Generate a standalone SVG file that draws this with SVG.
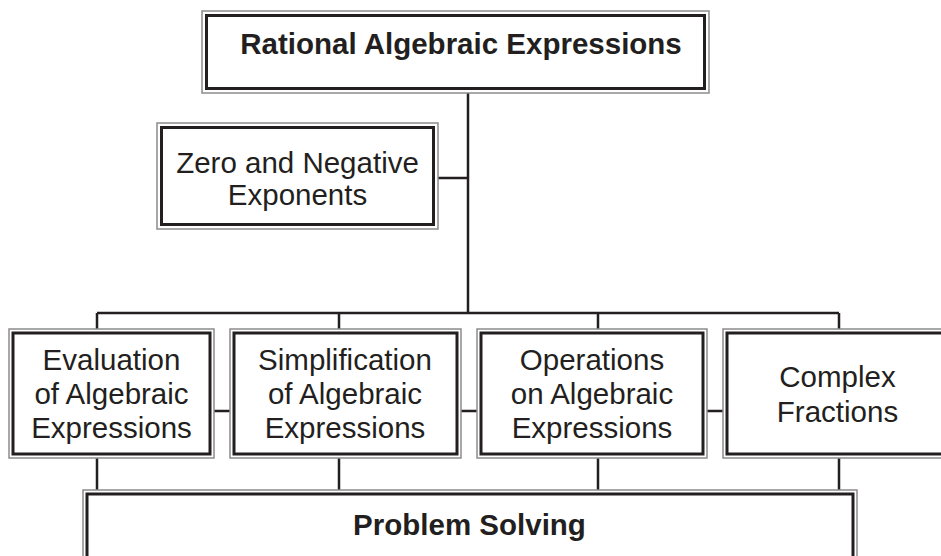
<svg xmlns="http://www.w3.org/2000/svg" width="941" height="556" viewBox="0 0 941 556">
<style>
.o{fill:none;stroke:#8c8c8c;stroke-width:1.5}
.i{fill:#fff;stroke:#231f20;stroke-width:3}
.t{font-family:"Liberation Sans",Arial,sans-serif;font-size:29.5px;fill:#231f20;text-anchor:middle}
.b{font-weight:bold;font-size:29.5px}
.c{stroke:#231f20;stroke-width:2.5;fill:none}
</style>
<rect width="941" height="556" fill="#fff"/>
<g id="connectors">
<path class="c" d="M468 93V313M438 178H468M97 313H839M97 313V329M339 313V329M598 313V329M839 313V329M214 411H230M461 411H477M707 411H723M97 458V490M339 458V490M598 458V490M839 458V490"/>
</g>
<g id="n-rational">
<rect class="o" x="202" y="11" width="507" height="82"/>
<rect class="i" x="206.5" y="15.5" width="498" height="73"/>
<text class="t b" x="461" y="54">Rational Algebraic Expressions</text>
</g>
<g id="n-zero">
<rect class="o" x="157" y="123" width="281" height="106"/>
<rect class="i" x="161.5" y="127.5" width="272" height="97"/>
<text class="t" x="297.5" y="173">Zero and Negative</text>
<text class="t" x="297.5" y="205">Exponents</text>
</g>
<g id="n-evaluation">
<rect class="o" x="9" y="329" width="205" height="129"/>
<rect class="i" x="13" y="333" width="197" height="121"/>
<text class="t" x="111.5" y="370">Evaluation</text>
<text class="t" x="111.5" y="404">of Algebraic</text>
<text class="t" x="111.5" y="438">Expressions</text>
</g>
<g id="n-simplification">
<rect class="o" x="230" y="329" width="231" height="129"/>
<rect class="i" x="234" y="333" width="223" height="121"/>
<text class="t" x="345" y="370">Simplification</text>
<text class="t" x="345" y="404">of Algebraic</text>
<text class="t" x="345" y="438">Expressions</text>
</g>
<g id="n-operations">
<rect class="o" x="477" y="329" width="230" height="129"/>
<rect class="i" x="481" y="333" width="222" height="121"/>
<text class="t" x="592" y="370">Operations</text>
<text class="t" x="592" y="404">on Algebraic</text>
<text class="t" x="592" y="438">Expressions</text>
</g>
<g id="n-complex">
<rect class="o" x="723" y="329" width="240" height="129"/>
<rect class="i" x="727" y="333" width="232" height="121"/>
<text class="t" x="837.5" y="387">Complex</text>
<text class="t" x="837.5" y="422">Fractions</text>
</g>
<g id="n-problem">
<rect class="o" x="83" y="490" width="774" height="100"/>
<rect class="i" x="87" y="494" width="766" height="92"/>
<text class="t b" x="469.5" y="535">Problem Solving</text>
</g>
</svg>
